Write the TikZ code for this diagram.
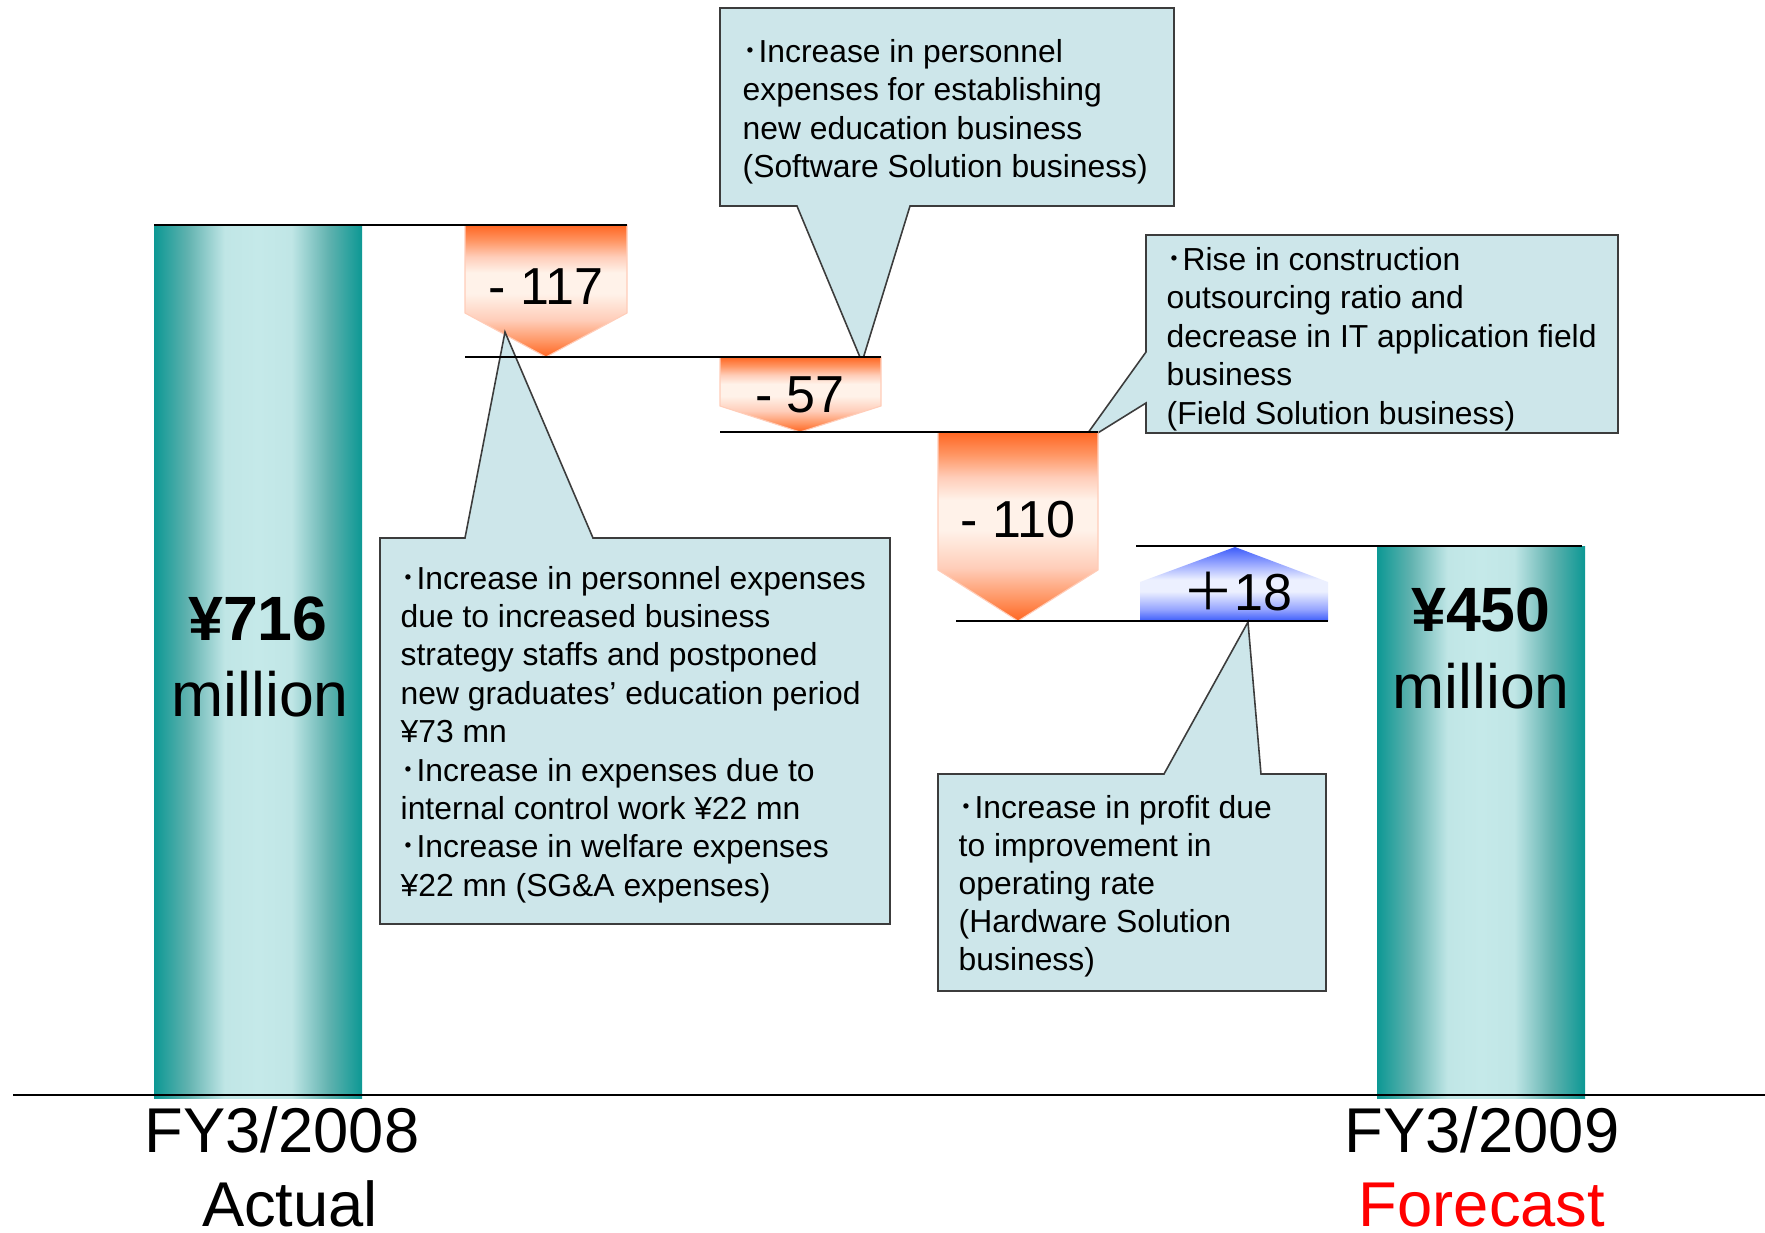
\documentclass[tikz,border=0pt]{standalone}
\usepackage{fontspec}
\setmainfont{Liberation Sans}
\newfontfamily\cjkfont{Noto Sans CJK JP}
\newcommand\dotbullet{{\cjkfont ･}}
\newcommand\fwplus{{\cjkfont ＋}}

\definecolor{tealD}{RGB}{12,152,148}
\definecolor{tealM}{RGB}{96,178,175}
\definecolor{tealL}{RGB}{192,230,230}
\definecolor{tealLL}{RGB}{197,233,233}
\definecolor{orD}{RGB}{255,102,34}
\definecolor{orM}{RGB}{255,150,100}
\definecolor{orP}{RGB}{255,205,185}
\definecolor{orL}{RGB}{255,242,233}
\definecolor{blD}{RGB}{60,92,250}
\definecolor{blM}{RGB}{150,165,255}
\definecolor{blL}{RGB}{236,240,255}
\definecolor{calloutfill}{RGB}{205,230,234}
\definecolor{calloutedge}{RGB}{60,60,60}
\definecolor{forecastred}{RGB}{255,0,0}

% teal cylinder-like bar, lightest a little left of centre
\pgfdeclarehorizontalshading{barshade}{100bp}{color(0bp)=(tealD); color(25bp)=(tealD);
  color(33bp)=(tealM); color(42bp)=(tealL); color(50bp)=(tealLL); color(58bp)=(tealL);
  color(67bp)=(tealM); color(75bp)=(tealD); color(100bp)=(tealD)}
% orange decrease arrows: dark at top and tip, pale in the middle
\pgfdeclareverticalshading{dropshade}{100bp}{color(0bp)=(orD); color(25bp)=(orD);
  color(31bp)=(orM); color(39bp)=(orP); color(49bp)=(orL); color(57bp)=(orL);
  color(63bp)=(orP); color(69bp)=(orM); color(75bp)=(orD); color(100bp)=(orD)}
% blue increase arrow
\pgfdeclareverticalshading{riseshade}{100bp}{color(0bp)=(blD); color(25bp)=(blD);
  color(33bp)=(blM); color(45bp)=(blL); color(53bp)=(blL); color(64bp)=(blM);
  color(75bp)=(blD); color(100bp)=(blD)}

\tikzset{
  notetext/.style={anchor=base west, inner sep=0pt, font=\fontsize{9.05}{10.9}\selectfont},
  deltatext/.style={anchor=base, inner sep=0pt, font=\fontsize{14.8}{17}\selectfont},
  bartext/.style={anchor=base, inner sep=0pt, font=\fontsize{17.8}{21}\selectfont},
  barbold/.style={bartext, font=\fontsize{17.8}{21}\selectfont\bfseries},
  yeartext/.style={anchor=base, inner sep=0pt, font=\fontsize{18}{21}\selectfont},
  ruleline/.style={line width=0.6pt, black},
  callout/.style={fill=calloutfill, draw=calloutedge, line width=0.45pt, line join=miter},
  bar/.style={shading=barshade},
  drop/.style={shading=dropshade, draw=orP, line width=0.3pt},
  rise/.style={shading=riseshade},
}

\begin{document}
\begin{tikzpicture}[x=0.01cm, y=-0.01cm]
\useasboundingbox (0,0) rectangle (1765,1232);
\fill[white] (0,0) rectangle (1765,1232);

% result bars
\shade[bar] (154,225) rectangle (362,1098);
\shade[bar] (1377,546) rectangle (1585,1098);

% callouts whose pointers run under the arrows
\filldraw[callout] (720,8) -- (1174,8) -- (1174,206) -- (910,206) -- (862,362)
  -- (797,206) -- (720,206) -- cycle;
\filldraw[callout] (1146,235) -- (1618,235) -- (1618,433) -- (1146,433) -- (1146,403)
  -- (1080,444) -- (1146,352) -- cycle;

% change arrows
\shadedraw[drop] (465,225) -- (627,225) -- (627,313) -- (546,357) -- (465,313) -- cycle;
\shadedraw[drop] (720,357) -- (881,357) -- (881,406) -- (800,432) -- (720,406) -- cycle;
\shadedraw[drop] (938,432) -- (1098,432) -- (1098,570) -- (1018,621) -- (938,570) -- cycle;
\shade[rise] (1140,621) -- (1328,621) -- (1328,582) -- (1235,547) -- (1140,582) -- cycle;

% callouts drawn over the arrows
\filldraw[callout] (380,538) -- (465,538) -- (505,332) -- (593,538) -- (890,538)
  -- (890,924) -- (380,924) -- cycle;
\filldraw[callout] (938,774) -- (1164,774) -- (1248,622) -- (1261,774) -- (1326,774)
  -- (1326,991) -- (938,991) -- cycle;

% level lines
\draw[ruleline] (154,225) -- (627,225);
\draw[ruleline] (465,357) -- (881,357);
\draw[ruleline] (720,432) -- (1098,432);
\draw[ruleline] (956,621) -- (1328,621);
\draw[ruleline] (1136,546) -- (1582,546);
\draw[ruleline] (13,1095) -- (1765,1095);

% amounts on the bars
\node[barbold] (startval) at (258,640) {¥716};
\node[bartext] (startunit) at (260,716) {million};
\node[barbold] (endval) at (1481,631) {¥450};
\node[bartext] (endunit) at (1481,708) {million};

% changes
\node[deltatext] (d1) at (546,304) {- 117};
\node[deltatext] (d2) at (800,412) {- 57};
\node[deltatext] (d3) at (1018,537) {- 110};
\node[deltatext] (d4) at (1237,610) {\fwplus18};

% year captions
\node[yeartext] (y1) at (282,1152) {FY3/2008};
\node[yeartext] (y1b) at (290,1226) {Actual};
\node[yeartext] (y2) at (1482,1152) {FY3/2009};
\node[yeartext, text=forecastred] (y2b) at (1482,1226) {Forecast};

% notes
\foreach \txt [count=\i] in {{\dotbullet Increase in personnel},{expenses for establishing},
  {new education business},{(Software Solution business)}}
  \node[notetext] (sw\i) at (742,{62+38.5*(\i-1)}) {\txt};

\foreach \txt [count=\i] in {{\dotbullet Rise in construction},{outsourcing ratio and},
  {decrease in IT application field},{business},{(Field Solution business)}}
  \node[notetext] (fs\i) at (1166,{270+38.5*(\i-1)}) {\txt};

\foreach \txt [count=\i] in {{\dotbullet Increase in personnel expenses},{due to increased business},
  {strategy staffs and postponed},{new graduates’ education period},{¥73 mn},
  {\dotbullet Increase in expenses due to},{internal control work ¥22 mn},
  {\dotbullet Increase in welfare expenses},{¥22 mn (SG\&A expenses)}}
  \node[notetext] (sga\i) at (400,{589+38.4*(\i-1)}) {\txt};

\foreach \txt [count=\i] in {{\dotbullet Increase in profit due},{to improvement in},
  {operating rate},{(Hardware Solution},{business)}}
  \node[notetext] (hw\i) at (958,{818+38.2*(\i-1)}) {\txt};
\end{tikzpicture}
\end{document}
